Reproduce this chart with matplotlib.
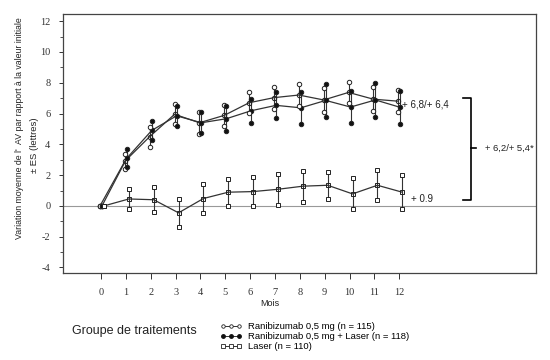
import numpy as np
import matplotlib
matplotlib.use("Agg")
import matplotlib.pyplot as plt
from matplotlib.lines import Line2D

# valeurs (variation moyenne de l'AV, lettres)
months = list(range(13))
rani_mean = [0, 2.9, 4.5, 5.95, 5.4, 5.88, 6.7, 7.03, 7.2, 6.88, 7.37, 6.93, 6.8]
rani_err = [0, 0.5, 0.65, 0.65, 0.7, 0.68, 0.68, 0.72, 0.72, 0.76, 0.7, 0.77, 0.7]
combo_mean = [0, 3.1, 4.9, 5.85, 5.4, 5.66, 6.18, 6.53, 6.37, 6.85, 6.42, 6.88, 6.4]
combo_err = [0, 0.57, 0.6, 0.65, 0.68, 0.8, 0.77, 0.85, 1.05, 1.05, 1.05, 1.12, 1.07]
laser_mean = [0, 0.45, 0.4, -0.45, 0.48, 0.89, 0.93, 1.08, 1.28, 1.34, 0.78, 1.34, 0.89]
laser_err = [0, 0.65, 0.82, 0.9, 0.93, 0.88, 0.93, 0.99, 1.0, 0.89, 1.0, 0.97, 1.1]

labels = ["Ranibizumab 0,5 mg (n = 115)",
          "Ranibizumab 0,5 mg + Laser (n = 118)",
          "Laser (n = 110)"]

SANS = "Liberation Sans"
SERIF = "Liberation Serif"
LINE = "#333333"

fig = plt.figure(figsize=(5.5, 3.6), dpi=100)
ax = fig.add_axes([0.1145, 0.242, 0.86, 0.719])


def draw_group(dx, mean, err, marker, ms, face_mid, face_end):
    x = np.array(months) + dx
    m = np.array(mean)
    e = np.array(err)
    ax.vlines(x, m - e, m + e, color=LINE, lw=0.8, zorder=2)
    ax.plot(x, m, color=LINE, lw=0.9, marker=marker, ms=ms,
            mfc=face_mid, mec="#222222", mew=0.7, zorder=3)
    for ends in (m + e, m - e):
        ax.plot(x, ends, ls="none", marker=marker, ms=ms,
                mfc=face_end, mec="#222222", mew=0.7, zorder=4)


ax.axhline(0, color="#999999", lw=0.8, zorder=1)
draw_group(-0.04, rani_mean, rani_err, "o", 3.2, "none", "white")
draw_group(0.04, combo_mean, combo_err, "o", 3.2, "#111111", "#111111")
draw_group(0.12, laser_mean, laser_err, "s", 3.4, "none", "white")

# accolade et annotations
ax.plot([14.58, 14.88, 14.88, 14.58], [7.03, 7.03, 0.39, 0.39],
        color="k", lw=1.2, clip_on=False)
ax.plot([14.88, 15.08], [3.75, 3.75], color="k", lw=1.2)
ax.text(12.12, 6.6, "+ 6,8/+ 6,4", fontsize=7, family=SANS, va="center", color="#222222")
ax.text(12.46, 0.45, "+ 0.9", fontsize=7, family=SANS, va="center", color="#222222")
ax.text(15.45, 3.75, "+ 6,2/+ 5,4*", fontsize=6.8, family=SANS, va="center", color="#222222")

ax.set_xlim(-1.53, 17.5)
ax.set_ylim(-4.35, 12.46)
ax.set_xticks(months)
ax.set_xticklabels([str(m) for m in months], family=SERIF, fontsize=7.5)
ax.set_yticks(range(-4, 13, 2))
ax.set_yticks(range(-3, 12, 2), minor=True)
ax.set_yticklabels([str(v) for v in range(-4, 13, 2)], family=SERIF, fontsize=7.5)
ax.tick_params(axis="x", direction="out", length=4, width=0.7, pad=7, colors="#333333")
ax.tick_params(axis="y", which="major", direction="out", length=3, width=0.7, pad=6, colors="#333333")
ax.tick_params(axis="y", which="minor", direction="out", length=2, width=0.6, colors="#333333")
for sp in ax.spines.values():
    sp.set_color("#444444")
    sp.set_linewidth(0.9)

fig.text(270 / 550, 1 - 303 / 360, "Mois", fontsize=6.5, family=SANS,
         ha="center", va="center", color="#222222")
fig.text(20 / 550, 1 - 128 / 360,
         "Variation moyenne de l'  AV par rapport \u00e0 la valeur initiale",
         rotation=90, fontsize=6.3, family=SANS, ha="center", va="center", color="#222222")
fig.text(35 / 550, 1 - 145 / 360, "\u00b1 ES (lettres)", rotation=90,
         fontsize=6.8, family=SANS, ha="center", va="center", color="#222222")

# légende
fig.text(72 / 550, 1 - 331 / 360, "Groupe de traitements", fontsize=9,
         family=SANS, va="center", color="#222222")
handles = [
    Line2D([], [], color=LINE, lw=0.7, marker="o", ms=2.5, mfc="white", mec="#222222", mew=0.6),
    Line2D([], [], color=LINE, lw=0.7, marker="o", ms=2.5, mfc="#111111", mec="#111111"),
    Line2D([], [], color=LINE, lw=0.7, marker="s", ms=2.5, mfc="white", mec="#222222", mew=0.6),
]
leg = fig.legend(handles, labels, loc="upper left",
                 bbox_to_anchor=(220 / 550, 1 - 322 / 360), frameon=False,
                 numpoints=3, prop={"family": SANS, "size": 6.8},
                 handlelength=2.3, handletextpad=0.7, labelspacing=0.1,
                 borderpad=0, borderaxespad=0)

fig.savefig("out.png", dpi=100)
